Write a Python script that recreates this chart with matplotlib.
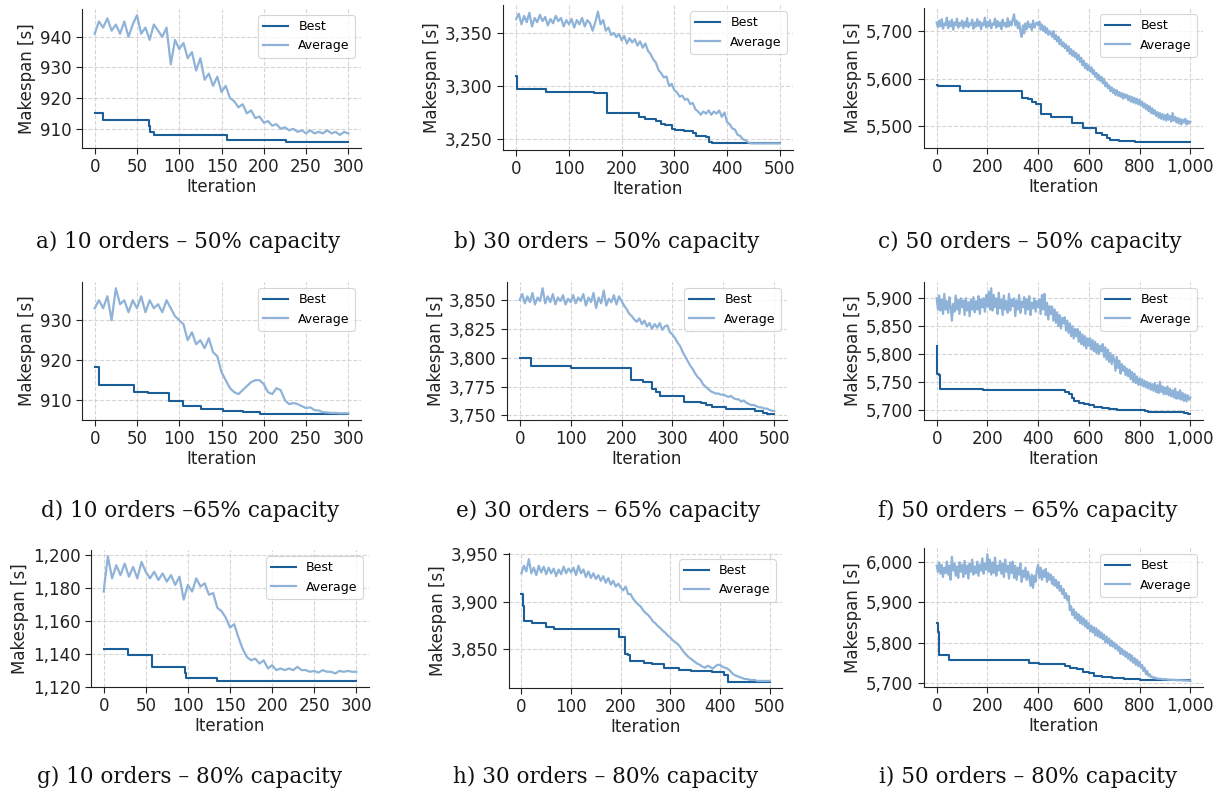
import numpy as np
import matplotlib
matplotlib.use("Agg")
import matplotlib.pyplot as plt
from matplotlib.ticker import FuncFormatter, MultipleLocator

# ---------------- data ----------------
captions = ["a) 10 orders – 50% capacity", "b) 30 orders – 50% capacity", "c) 50 orders – 50% capacity",
            "d) 10 orders –65% capacity", "e) 30 orders – 65% capacity", "f) 50 orders – 65% capacity",
            "g) 10 orders – 80% capacity", "h) 30 orders – 80% capacity", "i) 50 orders – 80% capacity"]
iterations = [300, 500, 1000, 300, 500, 1000, 300, 500, 1000]
avg_step = [5, 5, 5, 5, 5, 5, 5, 5, 5]

# Best: change points (iteration, makespan)
best_a_x = [0, 10, 64, 66, 70, 156, 226, 300]
best_a_y = [915, 913, 911, 909, 908, 906.5, 905.8, 905.8]
best_b_x = [0, 2, 57, 148, 173, 232, 244, 266, 275, 283, 295, 302, 318, 336, 341, 360, 365, 372, 500]
best_b_y = [3309, 3297, 3294, 3293, 3275, 3271, 3269, 3267, 3264, 3263, 3260, 3259, 3258, 3256, 3253, 3252, 3247, 3246, 3246]
best_c_x = [0, 5, 92, 335, 360, 375, 390, 410, 450, 533, 575, 630, 650, 670, 685, 720, 780, 1000]
best_c_y = [5587, 5585, 5575, 5560, 5557, 5552, 5547, 5525, 5520, 5507, 5497, 5487, 5482, 5475, 5471, 5470, 5468, 5468]
best_d_x = [0, 5, 46, 63, 88, 105, 126, 152, 176, 195, 300]
best_d_y = [918.3, 913.7, 912.1, 911.7, 909.8, 908.5, 907.7, 907.3, 907.0, 906.6, 906.6]
best_e_x = [0, 23, 100, 219, 242, 260, 268, 276, 323, 356, 365, 378, 405, 462, 478, 485, 500]
best_e_y = [3800, 3793, 3791, 3781, 3779, 3773, 3770, 3767, 3762, 3761, 3759, 3757, 3756, 3754, 3752, 3751.5, 3751.5]
best_f_x = [0, 3, 9, 12, 182, 505, 520, 532, 543, 560, 580, 600, 620, 650, 680, 710, 820, 835, 975, 990, 1000]
best_f_y = [5815, 5765, 5762, 5738, 5735, 5732, 5728, 5722, 5716, 5713, 5711, 5708, 5705, 5703, 5701, 5699, 5697, 5696, 5694, 5693, 5693]
best_g_x = [0, 29, 58, 96, 98, 135, 300]
best_g_y = [1143, 1139, 1132, 1128, 1125, 1123.5, 1123.5]
best_h_x = [0, 3, 5, 22, 49, 66, 196, 209, 214, 218, 247, 264, 288, 318, 342, 383, 408, 416, 500]
best_h_y = [3908, 3895, 3879, 3877, 3873, 3871, 3862, 3845, 3843, 3837, 3835, 3834, 3830, 3828, 3826, 3825, 3822, 3815, 3815]
best_i_x = [0, 5, 10, 48, 363, 405, 505, 525, 555, 578, 600, 620, 650, 690, 740, 800, 900, 1000]
best_i_y = [5848, 5825, 5770, 5757, 5749, 5746, 5743, 5738, 5735, 5728, 5725, 5718, 5716, 5713, 5710, 5708, 5707, 5706]

# Average: sampled every avg_step iterations
avg_a = [941, 945, 943, 946, 942, 944, 941, 945, 940, 944, 947, 941, 943, 939, 944, 942, 940, 943, 931, 939,
         936, 938, 933, 935, 929, 933, 926, 928, 924, 927, 922, 924, 920, 919, 917, 918, 915, 916, 913.5, 914,
         912, 912.5, 911, 911.5, 910, 910.5, 909.5, 910, 909, 909.5, 908.5, 909.5, 908.5, 909, 908.5, 909.5, 908.5, 909, 908, 909, 908.5]
avg_b = [3363, 3368, 3358, 3366, 3360, 3369, 3356, 3364, 3360, 3367, 3361, 3365, 3357, 3363, 3359, 3366, 3361, 3364, 3356, 3362,
         3358, 3363, 3355, 3362, 3358, 3364, 3356, 3362, 3359, 3352, 3360, 3370, 3358, 3362, 3352, 3355, 3348, 3350, 3346, 3349,
         3343, 3347, 3340, 3345, 3341, 3344, 3338, 3342, 3336, 3340, 3333, 3330, 3325, 3322, 3315, 3312, 3308, 3309, 3300, 3302,
         3296, 3294, 3290, 3291, 3287, 3288, 3283, 3284, 3278, 3276, 3273, 3276, 3274, 3277, 3273, 3276, 3274, 3277, 3271, 3275,
         3266, 3264, 3260, 3259, 3254, 3253, 3250, 3249, 3247, 3246, 3246, 3246, 3246, 3246, 3246, 3246, 3246, 3246, 3246, 3246, 3246]
avg_c = [5718, 5708, 5722, 5710, 5725, 5705, 5716, 5712, 5728, 5706,
         5720, 5710, 5724, 5703, 5718, 5712, 5726, 5707, 5717, 5711,
         5722, 5706, 5719, 5710, 5727, 5708, 5716, 5713, 5724, 5705,
         5718, 5709, 5725, 5711, 5720, 5704, 5717, 5712, 5728, 5708,
         5719, 5710, 5723, 5706, 5716, 5713, 5726, 5707, 5721, 5710,
         5718, 5704, 5724, 5711, 5717, 5708, 5727, 5710, 5720, 5712,
         5725, 5735, 5712, 5722, 5706, 5718, 5700, 5688, 5712, 5695,
         5716, 5704, 5720, 5708, 5714, 5702, 5722, 5707, 5715, 5718,
         5712, 5720, 5703, 5714, 5700, 5710, 5696, 5706, 5692, 5700,
         5695, 5688, 5700, 5683, 5692, 5678, 5688, 5672, 5682, 5668,
         5676, 5664, 5672, 5658, 5668, 5652, 5662, 5648, 5658, 5645,
         5654, 5640, 5650, 5635, 5644, 5628, 5638, 5622, 5632, 5618,
         5628, 5615, 5624, 5610, 5618, 5604, 5612, 5598, 5608, 5595,
         5604, 5590, 5600, 5584, 5592, 5580, 5586, 5574, 5582, 5570,
         5578, 5566, 5576, 5564, 5572, 5562, 5570, 5558, 5568, 5560,
         5566, 5555, 5564, 5552, 5562, 5550, 5560, 5548, 5558, 5546,
         5556, 5544, 5552, 5540, 5548, 5536, 5545, 5532, 5542, 5528,
         5538, 5526, 5534, 5522, 5530, 5518, 5528, 5516, 5526, 5514,
         5524, 5512, 5526, 5514, 5522, 5510, 5528, 5512, 5520, 5508,
         5518, 5506, 5516, 5504, 5514, 5508, 5516, 5504, 5512, 5506,
         5510]
avg_d = [933, 935, 933, 936, 930, 938, 934, 935, 932, 935, 933, 936, 932, 935, 933, 934, 932, 935, 933, 931,
         930, 929, 925, 927, 924, 925, 923, 925.5, 922, 921, 917, 915, 913, 912, 911.5, 912.5, 913.5, 914.5, 915, 915,
         914, 912, 911.5, 913, 912.5, 910, 909, 909.3, 909, 908.5, 908, 908.2, 907.5, 907.4, 907, 906.9, 906.8, 906.8, 906.7, 906.7, 906.7]
avg_e = [3850, 3855, 3847, 3853, 3848, 3856, 3846, 3852, 3849, 3860, 3847, 3853, 3848, 3855, 3846, 3852, 3849, 3854, 3846, 3851,
         3848, 3854, 3847, 3852, 3849, 3855, 3845, 3852, 3848, 3856, 3843, 3852, 3847, 3858, 3845, 3851, 3848, 3854, 3846, 3853,
         3849, 3845, 3842, 3838, 3836, 3833, 3831, 3834, 3829, 3832, 3827, 3830, 3825, 3829, 3826, 3830, 3824, 3827, 3828, 3822,
         3820, 3817, 3813, 3810, 3805, 3801, 3797, 3793, 3790, 3786, 3783, 3781, 3777, 3775, 3773, 3771, 3770, 3769, 3769, 3768,
         3768, 3767, 3766, 3767, 3765, 3764, 3764, 3762, 3763, 3761, 3760, 3759, 3759, 3758, 3757, 3757, 3756, 3756, 3755, 3754, 3754]
avg_f = [5900, 5880, 5905, 5878, 5898, 5872, 5908, 5880, 5895, 5874,
         5902, 5885, 5860, 5890, 5876, 5905, 5880, 5897, 5872, 5900,
         5884, 5896, 5870, 5900, 5878, 5893, 5868, 5898, 5880, 5902,
         5875, 5895, 5880, 5904, 5872, 5898, 5884, 5900, 5876, 5906,
         5885, 5912, 5880, 5918, 5878, 5906, 5884, 5900, 5872, 5910,
         5882, 5898, 5870, 5905, 5880, 5895, 5874, 5908, 5878, 5898,
         5886, 5900, 5868, 5896, 5880, 5906, 5874, 5894, 5884, 5902,
         5872, 5898, 5880, 5904, 5870, 5892, 5882, 5900, 5876, 5895,
         5884, 5898, 5872, 5906, 5880, 5908, 5870, 5892, 5862, 5886,
         5872, 5885, 5860, 5880, 5856, 5875, 5850, 5870, 5846, 5865,
         5855, 5866, 5842, 5860, 5838, 5855, 5832, 5850, 5828, 5845,
         5832, 5845, 5822, 5840, 5818, 5835, 5815, 5832, 5810, 5828,
         5815, 5828, 5808, 5825, 5805, 5822, 5802, 5818, 5800, 5815,
         5805, 5818, 5795, 5812, 5790, 5808, 5786, 5802, 5782, 5798,
         5790, 5770, 5795, 5775, 5788, 5765, 5782, 5770, 5778, 5762,
         5774, 5760, 5772, 5755, 5768, 5750, 5765, 5748, 5760, 5745,
         5756, 5744, 5755, 5742, 5752, 5740, 5750, 5738, 5748, 5736,
         5746, 5734, 5748, 5732, 5744, 5730, 5750, 5732, 5742, 5728,
         5740, 5728, 5742, 5726, 5738, 5724, 5735, 5722, 5738, 5720,
         5732, 5720, 5735, 5718, 5730, 5716, 5728, 5715, 5726, 5718,
         5722]
avg_g = [1178, 1199.5, 1186, 1194, 1188, 1195, 1187, 1193, 1186, 1196, 1190, 1186, 1190, 1185, 1189, 1184, 1188, 1182, 1187, 1173,
         1182, 1178, 1186, 1181, 1183, 1176, 1177, 1168, 1166, 1162, 1156, 1158, 1150, 1143, 1138, 1136, 1137, 1134, 1136, 1131,
         1133, 1130, 1131, 1130, 1131, 1130, 1132, 1130, 1130, 1129, 1129.5, 1128.5, 1130, 1129, 1129, 1128, 1129.5, 1129, 1129.5, 1129, 1129]
avg_h = [3930, 3938, 3932, 3945, 3930, 3936, 3928, 3938, 3931, 3937, 3929, 3936, 3930, 3935, 3927, 3934, 3929, 3937, 3930, 3935,
         3931, 3936, 3928, 3938, 3930, 3934, 3926, 3932, 3925, 3930, 3924, 3928, 3922, 3927, 3920, 3925, 3918, 3922, 3916, 3919,
         3915, 3912, 3916, 3908, 3908, 3903, 3900, 3897, 3895, 3891, 3888, 3886, 3883, 3879, 3877, 3874, 3872, 3869, 3867, 3864,
         3862, 3859, 3857, 3855, 3852, 3848, 3845, 3842, 3840, 3838, 3836, 3834, 3833, 3831, 3830, 3832, 3831, 3829, 3831, 3833,
         3833, 3831, 3830, 3829, 3827, 3824, 3822, 3821, 3820, 3819, 3818, 3818, 3817, 3817, 3817, 3816, 3816, 3816, 3816, 3816, 3816]
avg_i = [5990, 5975, 5998, 5970, 5992, 5962, 5985, 5972, 6000, 5968,
         5990, 5955, 6012, 5978, 5995, 5965, 5988, 5960, 5998, 5975,
         5992, 5962, 6002, 5970, 5990, 5958, 5995, 5975, 6005, 5968,
         5988, 5972, 6000, 5965, 5992, 5978, 6008, 5970, 5995, 5980,
         6018, 5975, 6005, 5968, 5998, 5972, 6010, 5965, 5990, 5978,
         6002, 5970, 5995, 5962, 6005, 5975, 5990, 5958, 5998, 5972,
         6000, 5960, 5990, 5955, 5985, 5968, 5995, 5950, 5978, 5962,
         5985, 5955, 5975, 5962, 5940, 5968, 5935, 5965, 5950, 5980,
         5992, 5960, 5985, 5955, 5978, 5962, 5982, 5950, 5972, 5955,
         5968, 5945, 5962, 5940, 5955, 5935, 5950, 5928, 5940, 5920,
         5932, 5910, 5922, 5905, 5915, 5880, 5890, 5868, 5882, 5860,
         5875, 5855, 5870, 5848, 5865, 5845, 5860, 5840, 5855, 5835,
         5848, 5828, 5842, 5825, 5838, 5818, 5835, 5815, 5830, 5812,
         5825, 5808, 5820, 5800, 5815, 5798, 5810, 5792, 5805, 5790,
         5800, 5785, 5795, 5780, 5790, 5772, 5785, 5770, 5780, 5765,
         5776, 5760, 5772, 5755, 5768, 5750, 5762, 5745, 5758, 5742,
         5752, 5738, 5745, 5730, 5738, 5722, 5730, 5718, 5722, 5715,
         5716, 5712, 5714, 5711, 5712, 5710, 5711, 5710, 5710, 5709,
         5710, 5709, 5709, 5708, 5709, 5708, 5708, 5708, 5708, 5707,
         5708, 5707, 5707, 5707, 5707, 5706, 5707, 5706, 5706, 5706,
         5706]

best_x = [best_a_x, best_b_x, best_c_x, best_d_x, best_e_x, best_f_x, best_g_x, best_h_x, best_i_x]
best_y = [best_a_y, best_b_y, best_c_y, best_d_y, best_e_y, best_f_y, best_g_y, best_h_y, best_i_y]
avgs = [avg_a, avg_b, avg_c, avg_d, avg_e, avg_f, avg_g, avg_h, avg_i]
y_tick_step = [10, 50, 100, 10, 25, 50, 20, 50, 100]

# ---------------- layout (pixels: left, right, top, bottom) ----------------
W, H = 1222, 794
boxes = [(82, 361, 9, 148), (503, 793, 5, 150), (924, 1203, 8, 148),
         (82, 361, 282, 420), (507, 787, 282, 420), (924, 1203, 282, 420),
         (91, 369, 550, 687), (509, 782, 553, 688), (924, 1203, 548, 687)]
cap_pos = [(188, 242), (607, 242), (1030, 242),
           (190, 511), (608, 511), (1028, 511),
           (190, 777), (606, 777), (1028, 777)]

BEST_C = "#1c5f98"
AVG_C = "#8fb3d8"

fig = plt.figure(figsize=(W / 100, H / 100), dpi=100)
fmt = FuncFormatter(lambda v, p: f"{v:,.0f}")

for k in range(9):
    l, r, t, b = boxes[k]
    ax = fig.add_axes([l / W, 1 - b / H, (r - l) / W, (b - t) / H])
    ax.plot(best_x[k], best_y[k], drawstyle="steps-post", color=BEST_C, lw=1.5, label="Best", zorder=3)
    xs = np.arange(len(avgs[k])) * avg_step[k]
    ax.plot(xs, avgs[k], color=AVG_C, lw=1.6, label="Average", zorder=4)
    ax.yaxis.set_major_locator(MultipleLocator(y_tick_step[k]))
    ax.yaxis.set_major_formatter(fmt)
    ax.xaxis.set_major_formatter(fmt)
    if iterations[k] == 1000:
        ax.xaxis.set_major_locator(MultipleLocator(200))
    else:
        ax.xaxis.set_major_locator(MultipleLocator(50 if iterations[k] == 300 else 100))
    ax.grid(True, linestyle="--", color="#d5d5d5", lw=0.8)
    ax.set_axisbelow(True)
    for s in ["top", "right"]:
        ax.spines[s].set_visible(False)
    for s in ["left", "bottom"]:
        ax.spines[s].set_color("#222222")
    ax.tick_params(labelsize=12, colors="#222222", length=4)
    ax.set_xlabel("Iteration", fontsize=12, color="#222222", labelpad=1)
    ax.set_ylabel("Makespan [s]", fontsize=12, color="#222222", labelpad=3)
    leg = ax.legend(loc="upper right", fontsize=9, frameon=True, fancybox=True)
    leg.get_frame().set_edgecolor("#cccccc")
    leg.get_frame().set_linewidth(0.8)
    cx, cy = cap_pos[k]
    fig.text(cx / W, 1 - cy / H, captions[k], ha="center", va="center",
             fontsize=15.5, family="DejaVu Serif", color="#111111")

fig.savefig("out.png", dpi=100)
